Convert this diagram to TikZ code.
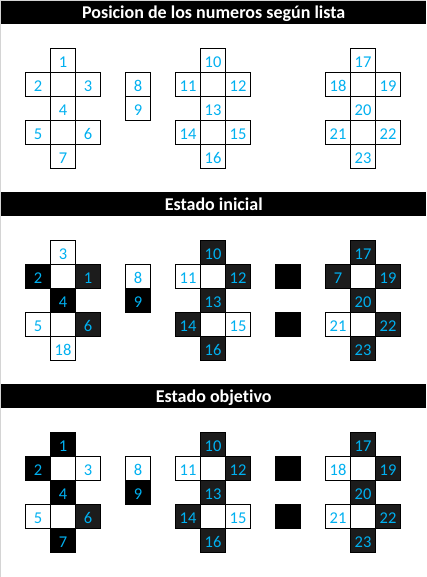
\documentclass[tikz,border=0pt]{standalone}
\usepackage{fontspec}
\setmainfont{Carlito}[Ligatures=NoCommon]
\definecolor{numblue}{HTML}{00B0F0}
\definecolor{darkcell}{HTML}{1C1C1C}
\definecolor{framegray}{HTML}{D4D4D4}
\tikzset{
  cellbase/.style={draw=black, line width=1pt, minimum width=25pt, minimum height=24pt,
    inner sep=0pt, text height=13.4pt, text depth=0pt,
    font=\fontsize{16.5}{16.5}\selectfont, text=numblue, anchor=north west},
  wc/.style={cellbase, fill=white},
  kc/.style={cellbase, fill=black},
  gc/.style={cellbase, fill=darkcell},
  titlebar/.style={fill=black, draw=none, minimum width=425pt, inner sep=0pt,
    text height=11.6pt, text depth=0pt, text=white,
    font=\fontsize{18}{18}\selectfont\bfseries, anchor=north west},
}
\newcommand\cellgroup[4]{%
  \foreach \c/\r/\s/\t [count=\i] in {#4} {\node[\s] (#1\i) at ({#2+25*\c},{#3+24*\r}) {\t};}}
\begin{document}
\begin{tikzpicture}[x=1pt,y=-1pt]
\useasboundingbox (0,0) rectangle (426,577);
\fill[white] (0,0) rectangle (426,577);
\fill[framegray] (0,0) rectangle (426,1);
\fill[framegray] (0,0) rectangle (1,577);
% titles
\node[titlebar, minimum height=23pt] (t1) at (1,1) {Posicion de los numeros según lista};
\node[titlebar, minimum height=24pt] (t2) at (1,192) {Estado inicial};
\node[titlebar, minimum height=24pt] (t3) at (1,384) {Estado objetivo};
% section 1
\cellgroup{pa}{25}{48}{1/0/wc/1, 0/1/wc/2, 1/1/wc/{}, 2/1/wc/3, 1/2/wc/4, 0/3/wc/5, 1/3/wc/{}, 2/3/wc/6, 1/4/wc/7}
\cellgroup{pm}{125}{48}{0/1/wc/8, 0/2/wc/9}
\cellgroup{pb}{175}{48}{1/0/wc/10, 0/1/wc/11, 1/1/wc/{}, 2/1/wc/12, 1/2/wc/13, 0/3/wc/14, 1/3/wc/{}, 2/3/wc/15, 1/4/wc/16}
\cellgroup{pc}{325}{48}{1/0/wc/17, 0/1/wc/18, 1/1/wc/{}, 2/1/wc/19, 1/2/wc/20, 0/3/wc/21, 1/3/wc/{}, 2/3/wc/22, 1/4/wc/23}
% section 2
\cellgroup{ia}{25}{240}{1/0/wc/3, 0/1/kc/2, 1/1/wc/{}, 2/1/gc/1, 1/2/kc/4, 0/3/wc/5, 1/3/wc/{}, 2/3/gc/6, 1/4/wc/18}
\cellgroup{im}{125}{240}{0/1/wc/8, 0/2/kc/9}
\cellgroup{ib}{175}{240}{1/0/gc/10, 0/1/wc/11, 1/1/wc/{}, 2/1/gc/12, 1/2/gc/13, 0/3/gc/14, 1/3/wc/{}, 2/3/wc/15, 1/4/gc/16}
\cellgroup{ik}{275}{240}{0/1/kc/{}, 0/3/kc/{}}
\cellgroup{ic}{325}{240}{1/0/gc/17, 0/1/gc/7, 1/1/wc/{}, 2/1/gc/19, 1/2/gc/20, 0/3/wc/21, 1/3/wc/{}, 2/3/gc/22, 1/4/gc/23}
% section 3
\cellgroup{oa}{25}{432}{1/0/kc/1, 0/1/kc/2, 1/1/wc/{}, 2/1/wc/3, 1/2/kc/4, 0/3/wc/5, 1/3/wc/{}, 2/3/gc/6, 1/4/kc/7}
\cellgroup{om}{125}{432}{0/1/wc/8, 0/2/kc/9}
\cellgroup{ob}{175}{432}{1/0/gc/10, 0/1/wc/11, 1/1/wc/{}, 2/1/gc/12, 1/2/gc/13, 0/3/gc/14, 1/3/wc/{}, 2/3/wc/15, 1/4/gc/16}
\cellgroup{ok}{275}{432}{0/1/kc/{}, 0/3/kc/{}}
\cellgroup{oc}{325}{432}{1/0/gc/17, 0/1/wc/18, 1/1/wc/{}, 2/1/gc/19, 1/2/gc/20, 0/3/wc/21, 1/3/wc/{}, 2/3/gc/22, 1/4/gc/23}
\end{tikzpicture}
\end{document}
